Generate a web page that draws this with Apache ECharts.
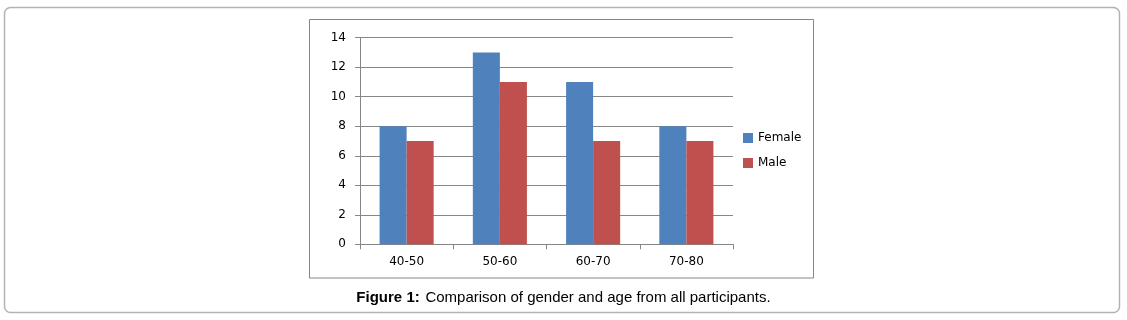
<!DOCTYPE html>
<html>
<head>
<meta charset="utf-8">
<script src="https://cdn.jsdelivr.net/npm/echarts@6/dist/echarts.min.js"></script>
<style>
  html, body { margin: 0; padding: 0; background: #fff; }
  #echart1 { width: 1127px; height: 320px; }
</style>
</head>
<body>
<div id="echart1"></div>
<script>
// age groups and participant counts
const categories = ["40-50", "50-60", "60-70", "70-80"];
const female = [8, 13, 11, 8];
const male = [7, 11, 7, 7];
const seriesNames = ["Female", "Male"];

let myChart = echarts.init(document.getElementById("echart1"));
const axisGray = "#868686";

myChart.setOption({
  animation: false,
  textStyle: { fontFamily: "DejaVu Sans" },
  graphic: [
    {
      // outer frame of the figure
      type: "rect",
      shape: { x: 4.5, y: 7.5, width: 1115, height: 305, r: 6 },
      style: { fill: "none", stroke: "#b3b3b3", lineWidth: 1.5 },
      silent: true
    },
    {
      // chart area border
      type: "rect",
      shape: { x: 309.5, y: 19.5, width: 504, height: 258.5 },
      style: { fill: "none", stroke: "#868686", lineWidth: 1 },
      silent: true
    }
  ],
  title: {
    text: "{b|Figure 1:} {n|Comparison of gender and age from all participants.}",
    left: "center",
    top: 284,
    textStyle: {
      fontWeight: "normal",
      rich: {
        b: { fontFamily: "Liberation Sans", fontSize: 15, fontWeight: "bold", color: "#000" },
        n: { fontFamily: "Liberation Sans", fontSize: 15, fontWeight: "normal", color: "#000" }
      }
    }
  },
  legend: {
    data: seriesNames,
    orient: "vertical",
    left: 738,
    top: 127,
    itemWidth: 10,
    itemHeight: 10,
    itemGap: 13,
    icon: "rect",
    textStyle: { fontSize: 12, color: "#000", fontFamily: "DejaVu Sans" }
  },
  grid: { left: 360, right: 394, top: 37.7, bottom: 75.7 },
  xAxis: [
    {
      type: "category",
      data: categories,
      axisLine: { lineStyle: { color: axisGray } },
      axisTick: { show: true, length: 5, lineStyle: { color: axisGray } },
      axisLabel: { color: "#000", fontSize: 12, margin: 12 }
    }
  ],
  yAxis: [
    {
      type: "value",
      min: 0,
      max: 14,
      interval: 2,
      axisLine: { show: true, lineStyle: { color: axisGray } },
      axisTick: { show: true, length: 5, lineStyle: { color: axisGray } },
      axisLabel: { color: "#000", fontSize: 12, margin: 14 },
      splitLine: { lineStyle: { color: axisGray } }
    }
  ],
  series: [
    {
      name: seriesNames[0],
      type: "bar",
      data: female,
      barGap: "0%",
      barCategoryGap: "42%",
      itemStyle: { color: "#4F81BD" }
    },
    {
      name: seriesNames[1],
      type: "bar",
      data: male,
      itemStyle: { color: "#C0504D" }
    }
  ]
});
</script>
</body>
</html>
